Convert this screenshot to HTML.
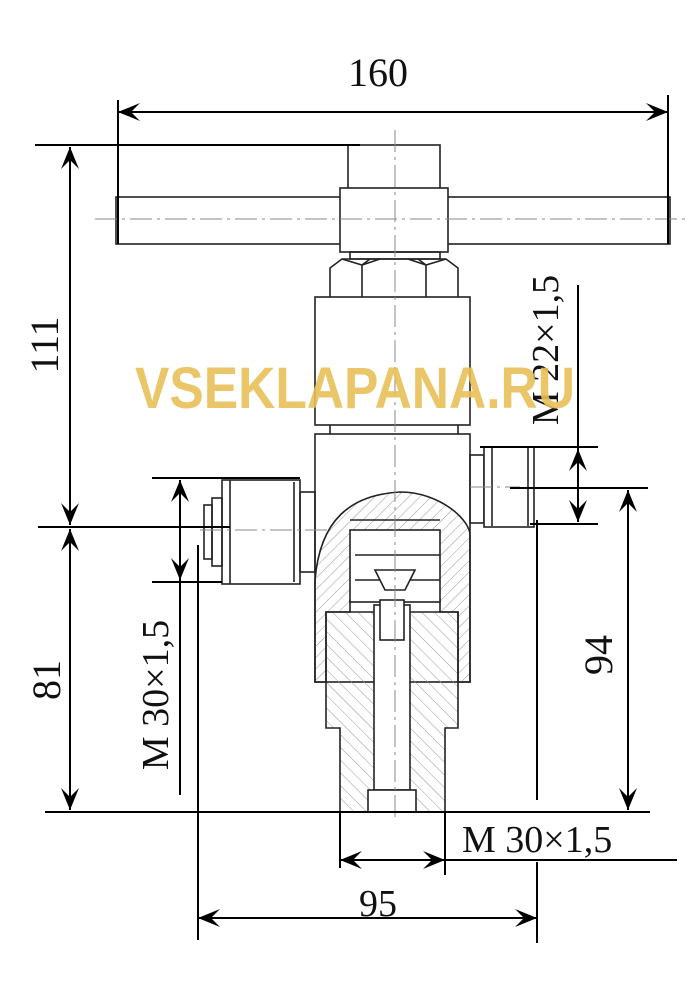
<!DOCTYPE html>
<html><head><meta charset="utf-8"><style>
html,body{margin:0;padding:0;background:#fff;}
svg{display:block;}
text{font-family:"Liberation Serif",serif;fill:#111;}
</style></head><body>
<svg width="700" height="1000" viewBox="0 0 700 1000" xmlns="http://www.w3.org/2000/svg">
<defs>
<pattern id="h1" width="8" height="8" patternUnits="userSpaceOnUse" patternTransform="rotate(45)">
<line x1="0" y1="0" x2="0" y2="8" stroke="#999" stroke-width="1"/></pattern>
<pattern id="h2" width="9" height="9" patternUnits="userSpaceOnUse" patternTransform="rotate(-45)">
<line x1="0" y1="0" x2="0" y2="9" stroke="#999" stroke-width="1"/></pattern>
<marker id="a" viewBox="0 0 22 18" refX="22" refY="9" markerWidth="22" markerHeight="18" markerUnits="userSpaceOnUse" orient="auto-start-reverse">
<path d="M0,0 L22,9 L0,18 L9,9 Z" fill="#000"/></marker>
</defs>
<g fill="none" stroke="#222" stroke-width="1.6">
<rect x="116" y="197" width="554" height="47" fill="#fff"/>
<rect x="348" y="145" width="92" height="45" fill="#fff"/>
<rect x="340" y="188" width="108" height="64" fill="#fff"/>
<rect x="350" y="252" width="90" height="7"/>
<path d="M330,297 L330,268 L342,259 L446,259 L458,268 L458,297"/>
<path d="M362,297 L362,265 L370,259 M426,297 L426,265 L418,259 M342,259 L362,265 L380,259 M446,259 L426,265 L408,259"/>
<rect x="315" y="297" width="155" height="128" fill="#fff"/>
<line x1="330" y1="425" x2="330" y2="434"/><line x1="458" y1="425" x2="458" y2="434"/>
<rect x="315" y="434" width="155" height="248" fill="#fff"/>
<path d="M315,580 C320,520 350,495 400,492 C440,492 470,520 470,535 L470,682 L458,682 L458,612 L440,612 L440,600 L350,600 L350,612 L326,612 L326,682 L315,682 Z" fill="url(#h1)"/>
<rect x="350" y="530" width="90" height="72" fill="#fff"/>
<path d="M350,520 L440,520 M355,555 L440,555 M355,580 L440,580" />
<path d="M375,570 L415,570 L405,590 L385,590 Z" fill="#fff"/>
<path d="M326,612 L458,612 L458,728 L445,728 L445,812 L340,812 L340,728 L326,728 Z" fill="url(#h2)"/>
<rect x="374" y="605" width="36" height="185" fill="#fff"/>
<rect x="380" y="600" width="24" height="40" fill="#fff"/>
<rect x="368" y="790" width="48" height="22" fill="#fff"/>
<line x1="340" y1="812" x2="445" y2="812"/>
<rect x="222" y="480" width="78" height="104" fill="#fff"/>
<line x1="230" y1="480" x2="230" y2="584"/><line x1="294" y1="482" x2="294" y2="582"/>
<rect x="300" y="492" width="15" height="80"/>
<rect x="212" y="498" width="10" height="68"/><rect x="204" y="505" width="8" height="54"/>
<rect x="470" y="455" width="14" height="68"/>
<rect x="484" y="447" width="50" height="80" fill="#fff"/>
<line x1="492" y1="448" x2="492" y2="526"/><line x1="528" y1="448" x2="528" y2="526"/>
</g>
<g stroke="#888" stroke-width="1" stroke-dasharray="22,5,3,5" fill="none">
<line x1="395" y1="130" x2="395" y2="820"/>
<line x1="95" y1="219" x2="690" y2="219"/>
<line x1="200" y1="530" x2="330" y2="530"/>
<line x1="470" y1="487" x2="520" y2="487"/>
</g>
<g stroke="#000" stroke-width="2" fill="none">
<line x1="118" y1="100" x2="118" y2="244"/><line x1="668" y1="95" x2="668" y2="244"/>
<line x1="118" y1="112" x2="668" y2="112" marker-start="url(#a)" marker-end="url(#a)"/>
<line x1="35" y1="145" x2="360" y2="145"/><line x1="38" y1="527" x2="230" y2="527"/>
<line x1="70" y1="147" x2="70" y2="525" marker-start="url(#a)" marker-end="url(#a)"/>
<line x1="70" y1="529" x2="70" y2="810" marker-start="url(#a)" marker-end="url(#a)"/>
<line x1="45" y1="812" x2="650" y2="812"/>
<line x1="152" y1="478" x2="300" y2="478"/><line x1="152" y1="582" x2="222" y2="582"/>
<line x1="180" y1="480" x2="180" y2="580" marker-start="url(#a)" marker-end="url(#a)"/>
<line x1="180" y1="580" x2="180" y2="795"/>
<line x1="198" y1="545" x2="198" y2="940"/>
<line x1="537" y1="520" x2="537" y2="800"/><line x1="537" y1="862" x2="537" y2="943"/>
<line x1="198" y1="918" x2="537" y2="918" marker-start="url(#a)" marker-end="url(#a)"/>
<line x1="480" y1="447" x2="598" y2="447"/><line x1="530" y1="524" x2="598" y2="524"/>
<line x1="578" y1="285" x2="578" y2="449" /><line x1="578" y1="449" x2="578" y2="522" marker-start="url(#a)" marker-end="url(#a)"/>
<line x1="510" y1="488" x2="648" y2="488"/>
<line x1="628" y1="490" x2="628" y2="810" marker-start="url(#a)" marker-end="url(#a)"/>
<line x1="340" y1="812" x2="340" y2="868"/><line x1="445" y1="812" x2="445" y2="875"/>
<line x1="340" y1="860" x2="445" y2="860" marker-start="url(#a)" marker-end="url(#a)"/>
<line x1="445" y1="860" x2="677" y2="860"/>
</g>
<text x="378" y="86" font-size="40" text-anchor="middle">160</text>
<text x="378" y="916" font-size="38" text-anchor="middle">95</text>
<text x="462" y="852" font-size="38">M 30×1,5</text>
<text transform="translate(58,345) rotate(-90)" font-size="40" text-anchor="middle">111</text>
<text transform="translate(60,680) rotate(-90)" font-size="40" text-anchor="middle">81</text>
<text transform="translate(168,695) rotate(-90)" font-size="38" text-anchor="middle">M 30×1,5</text>
<text transform="translate(558,350) rotate(-90)" font-size="38" text-anchor="middle">M 22×1,5</text>
<text transform="translate(612,655) rotate(-90)" font-size="40" text-anchor="middle">94</text>
<text x="135" y="408" font-size="58" font-weight="bold" textLength="440" lengthAdjust="spacingAndGlyphs" style="font-family:'Liberation Sans',sans-serif;fill:#e8c058;opacity:0.9">VSEKLAPANA.RU</text>
</svg>
</body></html>
